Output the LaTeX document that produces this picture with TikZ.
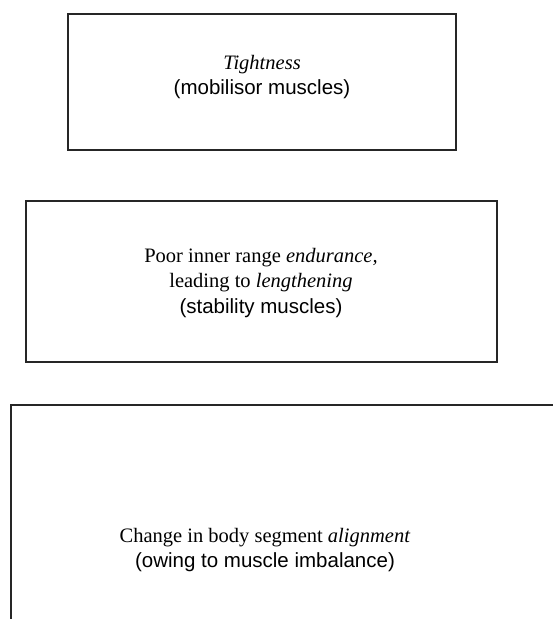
\documentclass[tikz,border=0pt]{standalone}
\usepackage{fontspec}
\setmainfont{Liberation Serif}
\newfontfamily\sansf{Liberation Sans}
\begin{document}
\begin{tikzpicture}[x=1pt,y=-1pt,
  boxed/.style={draw=black!85, line width=2pt, inner sep=0pt},
  txt/.style={align=center, inner sep=0pt, font=\fontsize{20.5}{25.5}\selectfont},
  paren/.style={font=\sansf}]
\useasboundingbox (0,0) rectangle (553,619);
\clip (0,0) rectangle (553,619);
\node[boxed, minimum width=388pt, minimum height=136pt] (b1) at (262,82) {};
\node[boxed, minimum width=471pt, minimum height=161pt] (b2) at (261.5,281.5) {};
\node[boxed, minimum width=600pt, minimum height=300pt, anchor=north west] (b3) at (10,404) {};
\node[txt] (t1) at (262,77) {\textit{Tightness}\\{\sansf (mobilisor muscles)}};
\node[txt] (t2) at (261,283) {Poor inner range \textit{endurance,}\\leading to \textit{lengthening}\\{\sansf (stability muscles)}};
\node[txt] (t3) at (265,550) {Change in body segment \textit{alignment}\\{\sansf (owing to muscle imbalance)}};
\end{tikzpicture}
\end{document}
